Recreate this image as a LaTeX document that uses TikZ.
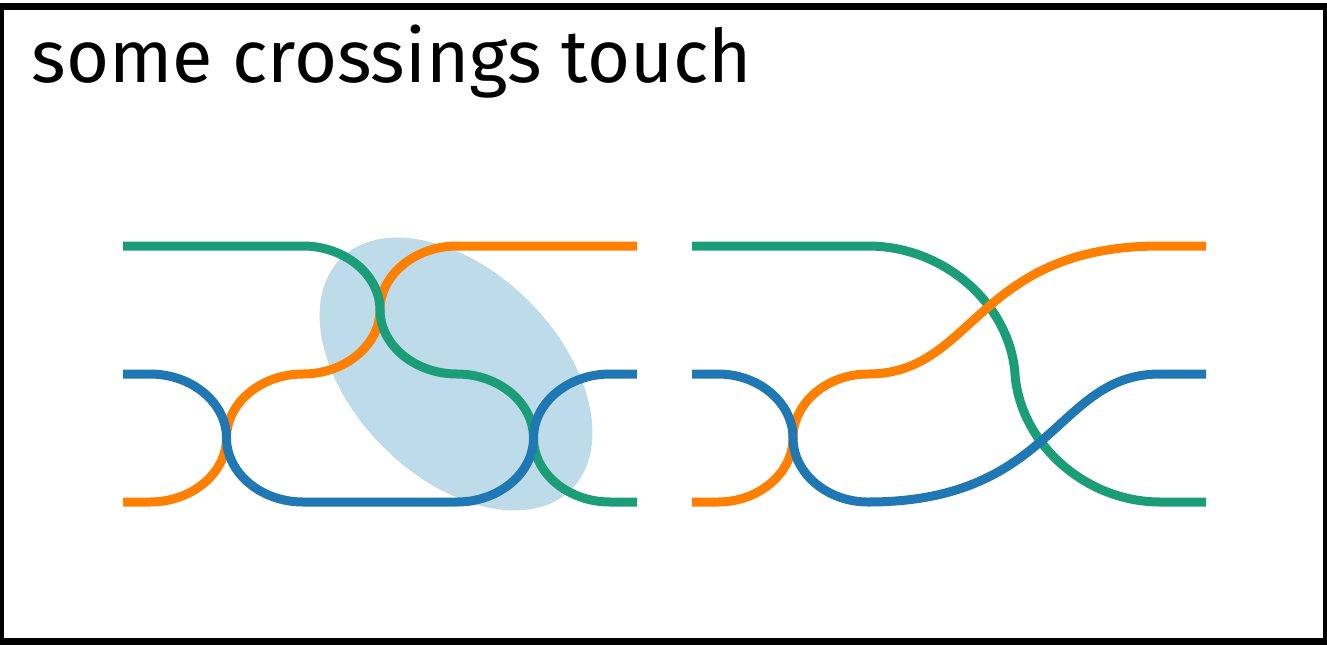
\documentclass[tikz,border=0pt]{standalone}
\usepackage{fontspec}
\setmainfont{Fira Sans}
\usepackage{tikz}
\definecolor{strandgreen}{RGB}{27,158,119}
\definecolor{strandorange}{RGB}{255,127,0}
\definecolor{strandblue}{RGB}{31,120,180}
\definecolor{lensblue}{RGB}{190,219,234}

\begin{document}
\begin{tikzpicture}[
    x=0.01cm, y=-0.01cm,
    strand/.style={line width=0.09cm},
    greenstrand/.style={strand, draw=strandgreen},
    orangestrand/.style={strand, draw=strandorange},
    bluestrand/.style={strand, draw=strandblue},
    lens/.style={fill=lensblue},
    frame/.style={draw=black, line width=0.07cm},
    titletext/.style={font=\fontsize{21}{25}\selectfont, anchor=base west, inner sep=0pt}
  ]
  \useasboundingbox (0,0) rectangle (1327,645);

  % Title
  \node[titletext] (title) at (31,82) {some crossings touch};

  % Left panel -- crossings that touch
  \fill[lens, rotate around={-45:(456,374)}] (456,374) ellipse [x radius=1.63cm, y radius=1.03cm];

  \draw[orangestrand] (123,502) -- (150,502)
    .. controls +(42,0) and +(0,35) .. (226.5,438)
    .. controls +(0,-35) and +(-42,0) .. (303,374)
    .. controls +(42,0) and +(0,35) .. (380,310)
    .. controls +(0,-35) and +(-42,0) .. (457,246) -- (637,246);
  \draw[greenstrand] (123,246) -- (303,246)
    .. controls +(42,0) and +(0,-35) .. (380,310)
    .. controls +(0,35) and +(-42,0) .. (457,374)
    .. controls +(42,0) and +(0,-35) .. (533.5,438)
    .. controls +(0,35) and +(-42,0) .. (610,502) -- (637,502);
  \draw[bluestrand] (123,374) -- (150,374)
    .. controls +(42,0) and +(0,-35) .. (226.5,438)
    .. controls +(0,35) and +(-42,0) .. (303,502) -- (457,502)
    .. controls +(42,0) and +(0,35) .. (533.5,438)
    .. controls +(0,-35) and +(-42,0) .. (610,374) -- (637,374);

  % Right panel -- crossings kept apart
  \draw[greenstrand] (692,246) -- (868,246)
    .. controls (945,246) and (1010,305) .. (1015,374)
    .. controls (1020,443) and (1085,502) .. (1160,502) -- (1206,502);
  \draw[orangestrand] (692,502) -- (718,502)
    .. controls +(41,0) and +(0,35) .. (793,438)
    .. controls +(0,-35) and +(-41,0) .. (868,374)
    .. controls (975,374) and (975,246) .. (1160,246) -- (1206,246);
  \draw[bluestrand] (692,374) -- (718,374)
    .. controls +(41,0) and +(0,-35) .. (793,438)
    .. controls +(0,35) and +(-41,0) .. (868,502)
    .. controls (1055,502) and (1055,374) .. (1160,374) -- (1206,374);

  % Frame
  \draw[frame] (0.5,6.5) rectangle (1326.5,641.5);
\end{tikzpicture}
\end{document}
